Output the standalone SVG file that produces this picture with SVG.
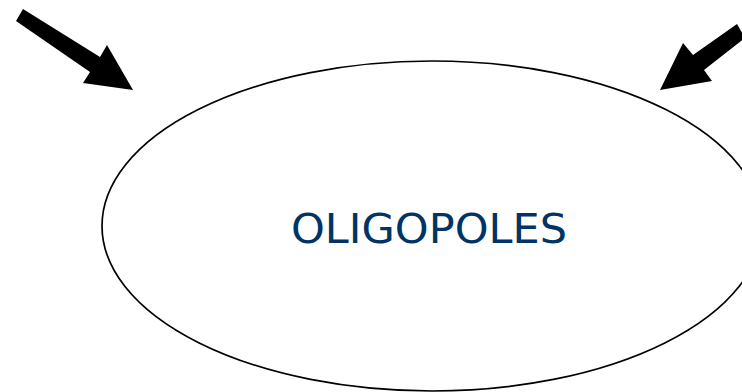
<svg xmlns="http://www.w3.org/2000/svg" width="742" height="392" viewBox="0 0 742 392">
<style>
.arrow{fill:#000;stroke:none}
.node{fill:#fff;stroke:#000;stroke-width:1.7}
.label{font-family:"DejaVu Sans",Verdana,sans-serif;font-size:40px;fill:#003366}
</style>
<rect width="742" height="392" fill="#fff"/>
<g id="connectors">
<polygon class="arrow" points="23,9 100,57 107,45 133,90 83,83 90,72 16,21"/>
<polygon class="arrow" points="737,24 693,55 683,43 660,90 712,81 704,70 745,38"/>
</g>
<g id="oligopoles">
<ellipse class="node" cx="432" cy="226" rx="330" ry="165"/>
<text class="label" x="291" y="243" textLength="276" lengthAdjust="spacingAndGlyphs">OLIGOPOLES</text>
</g>
</svg>
